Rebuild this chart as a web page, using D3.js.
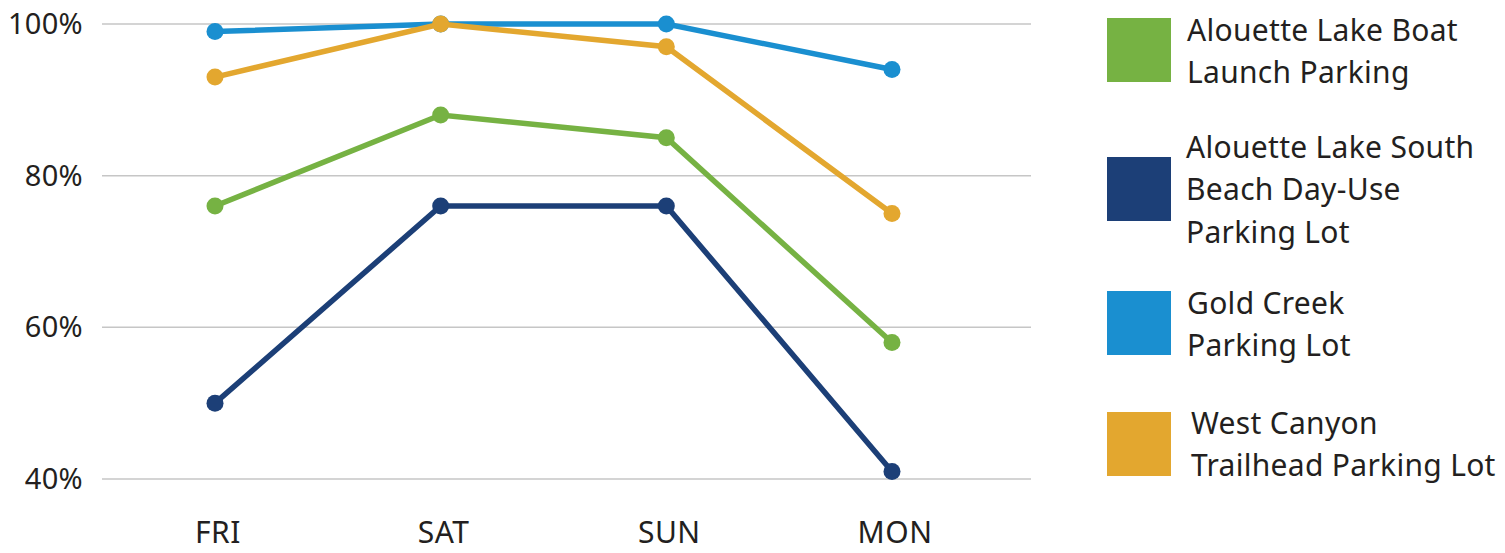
<!DOCTYPE html>
<html>
<head>
<meta charset="utf-8">
<script src="https://cdn.jsdelivr.net/npm/d3@7"></script>
<style>
  body { margin: 0; background: #fff; }
  svg text { font-family: "Noto Sans", "Open Sans", sans-serif; fill: #231f20; }
</style>
</head>
<body>
<div id="chart"></div>
<script>
// occupancy by day, percent
var days = ["FRI", "SAT", "SUN", "MON"];
var yTicks = [40, 60, 80, 100];

var boatLaunch = [76, 88, 85, 58];
var southBeach = [50, 76, 76, 41];
var goldCreek = [99, 100, 100, 94];
var westCanyon = [93, 100, 97, 75];

var seriesNames = [
	["Alouette Lake Boat", "Launch Parking"],
	["Alouette Lake South", "Beach Day-Use", "Parking Lot"],
	["Gold Creek", "Parking Lot"],
	["West Canyon", "Trailhead Parking Lot"]
];
var seriesColors = ["#76b243", "#1c3f77", "#1a8fd0", "#e3a72f"];

function drawChart() {
	var svg = d3.select("#chart").append("svg")
		.attr("width", 1505).attr("height", 553);

	var x = d3.scalePoint().domain(days).range([215, 892]);
	var y = d3.scaleLinear().domain([40, 100]).range([479, 24]);

	// gridlines
	svg.append("g").selectAll("line").data(yTicks).enter().append("line")
		.attr("x1", 102).attr("x2", 1031)
		.attr("y1", function(d) { return y(d); })
		.attr("y2", function(d) { return y(d); })
		.attr("stroke", "#c6c6c6").attr("stroke-width", 1.5);

	// y labels
	svg.append("g").selectAll("text").data(yTicks).enter().append("text")
		.attr("x", 83).attr("y", function(d) { return y(d); })
		.attr("dy", "0.35em").attr("text-anchor", "end")
		.attr("font-size", 29).attr("letter-spacing", 0.3)
		.text(function(d) { return d + "%"; });

	// x labels
	svg.append("g").selectAll("text").data(days).enter().append("text")
		.attr("x", function(d) { return x(d) + 3; }).attr("y", 543)
		.attr("text-anchor", "middle")
		.attr("font-size", 30).attr("letter-spacing", 0.5)
		.text(function(d) { return d; });

	// draw order: back to front
	var all = [boatLaunch, southBeach, goldCreek, westCanyon];
	var order = [1, 0, 2, 3];
	var line = d3.line()
		.x(function(d, i) { return x(days[i]); })
		.y(function(d) { return y(d); });

	order.forEach(function(k) {
		var g = svg.append("g");
		g.append("path").datum(all[k])
			.attr("d", line)
			.attr("fill", "none")
			.attr("stroke", seriesColors[k])
			.attr("stroke-width", 5.5);
		g.selectAll("circle").data(all[k]).enter().append("circle")
			.attr("cx", function(d, i) { return x(days[i]); })
			.attr("cy", function(d) { return y(d); })
			.attr("r", 8.5)
			.attr("fill", seriesColors[k]);
	});

	// legend
	var swatchY = [18, 157, 291, 412];
	var textX = [1187, 1186, 1187, 1191];
	var textY = [30, 147, 303, 423];
	var legend = svg.append("g");
	seriesNames.forEach(function(names, k) {
		legend.append("rect")
			.attr("x", 1107).attr("y", swatchY[k])
			.attr("width", 64).attr("height", 64)
			.attr("fill", seriesColors[k]);
		var t = legend.append("text")
			.attr("font-size", 30).attr("letter-spacing", 0.3);
		names.forEach(function(s, j) {
			t.append("tspan")
				.attr("x", textX[k])
				.attr("y", textY[k] + j * 42.5)
				.attr("dy", "0.35em")
				.text(s);
		});
	});
}

drawChart();
</script>
</body>
</html>
